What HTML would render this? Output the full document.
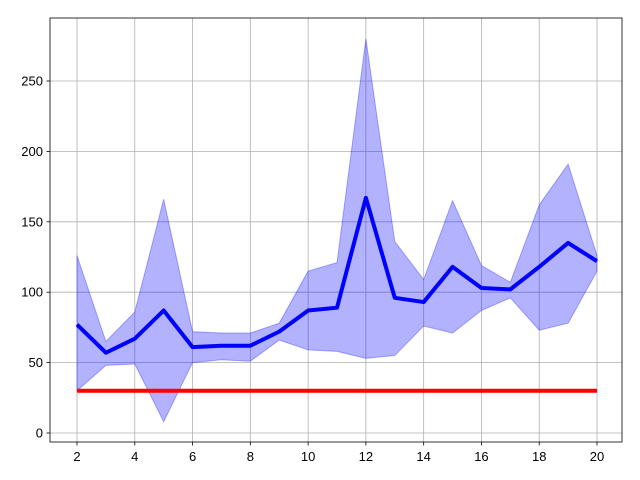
<!DOCTYPE html>
<html><head><meta charset="utf-8"><style>body{margin:0;background:#fff}svg{display:block;font-family:"Liberation Sans","DejaVu Sans",sans-serif}</style></head>
<body>
<svg id="chart" width="640" height="480"></svg>
<script>
const xs=[2,3,4,5,6,7,8,9,10,11,12,13,14,15,16,17,18,19,20];
const meanVals=[77,57,67,87,61,62,62,72,87,89,167,96,93,118,103,102,118,135,122];
const upperVals=[126,65,86,166,72,71,71,78,115,121,280,136,109,165,119,107,162,191,126];
const lowerVals=[30,48,49,8,50,52,51,66,59,58,53,55,76,71,87,96,73,78,115];
const baselineVals=xs.map(()=>30);
const xTicks=[2,4,6,8,10,12,14,16,18,20];
const yTicks=[0,50,100,150,200,250];
const L=50,R=622,T=18,B=442;
const X=v=>77+(v-2)*520/18;
const Y=v=>433-v*352/250;
const svg=document.getElementById('chart');
const NS='http://www.w3.org/2000/svg';
function mk(t,a,p){const e=document.createElementNS(NS,t);for(const k in a)e.setAttribute(k,a[k]);(p||svg).appendChild(e);return e;}
const grid=mk('g',{});


xTicks.forEach(t=>{mk('line',{x1:X(t),x2:X(t),y1:T,y2:B,stroke:'#b0b0b0','stroke-width':0.8},grid);
 mk('line',{x1:X(t),x2:X(t),y1:B,y2:B+3.5,stroke:'#000','stroke-width':0.8});
 const tx=mk('text',{x:X(t),y:B+19,'text-anchor':'middle','font-size':13});tx.textContent=t;
 
 });
yTicks.forEach(t=>{mk('line',{x1:L,x2:R,y1:Y(t),y2:Y(t),stroke:'#b0b0b0','stroke-width':0.8},grid);
 mk('line',{x1:L-3.5,x2:L,y1:Y(t),y2:Y(t),stroke:'#000','stroke-width':0.8});
 const tx=mk('text',{x:L-7,y:Y(t)+4.5,'text-anchor':'end','font-size':13});tx.textContent=t;
 
 });
let d='M'+xs.map((x,i)=>X(x)+','+Y(upperVals[i])).join('L');
for(let i=xs.length-1;i>=0;i--)d+='L'+X(xs[i])+','+Y(lowerVals[i]);
const band=mk('path',{d:d+'Z',fill:'#0000ff','fill-opacity':0.3,stroke:'#0000ff','stroke-opacity':0.3});


const red=mk('polyline',{points:xs.map((x,i)=>X(x)+','+Y(baselineVals[i])).join(' '),fill:'none',stroke:'#ff0000','stroke-width':4});


const blue=mk('polyline',{points:xs.map((x,i)=>X(x)+','+Y(meanVals[i])).join(' '),fill:'none',stroke:'#0000ff','stroke-width':4,'stroke-linejoin':'round'});


const frame=mk('rect',{x:L,y:T,width:R-L,height:B-T,fill:'none',stroke:'#000','stroke-width':0.8});


</script>
</body></html>
